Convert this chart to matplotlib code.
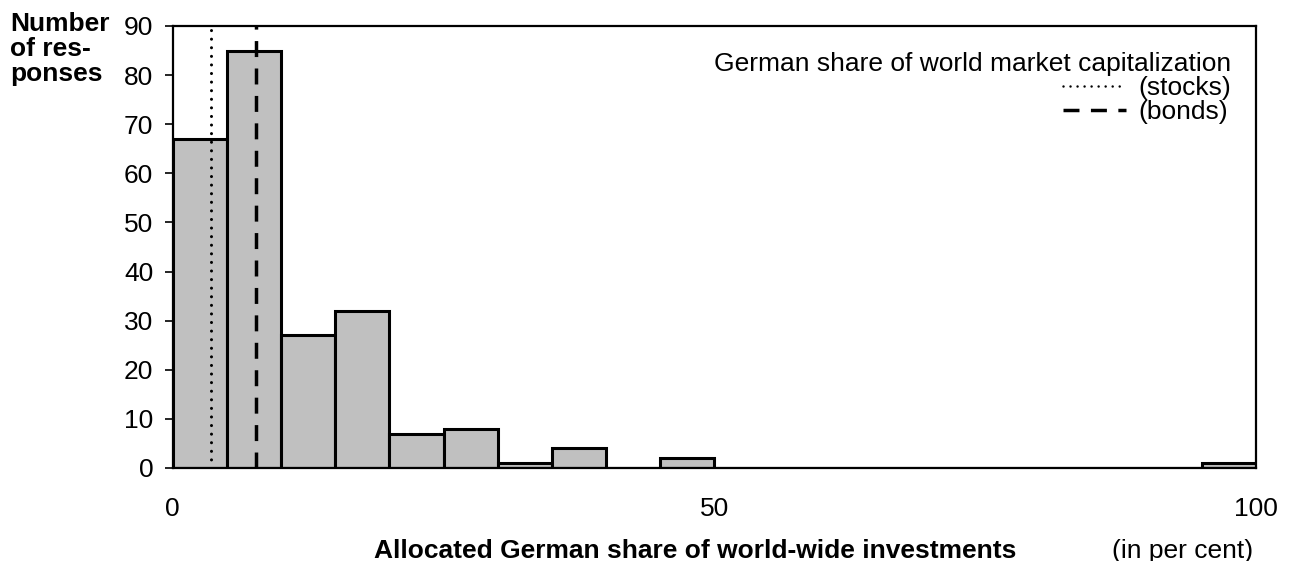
import matplotlib.pyplot as plt
from matplotlib.lines import Line2D

plt.rcParams['font.family'] = ['Liberation Sans', 'DejaVu Sans']

# histogram data: bins of 5 per cent width
bin_left = [0, 5, 10, 15, 20, 25, 30, 35, 40, 45, 50, 55, 60, 65, 70, 75, 80, 85, 90, 95]
responses = [67, 85, 27, 32, 7, 8, 1, 4, 0, 2, 0, 0, 0, 0, 0, 0, 0, 0, 0, 1]
bin_width = 5

# German share of world market capitalization
stocks_share = 3.5
bonds_share = 7.7

x_ticks = [0, 50, 100]
y_ticks = [0, 10, 20, 30, 40, 50, 60, 70, 80, 90]

fs = 19
dotted = (0, (0.01, 2.8))
dashed = (0, (4.6, 3.3))

fig = plt.figure(figsize=(12.97, 5.61), dpi=100)
ax = fig.add_axes([0.1332, 0.1658, 0.8352, 0.7879])

ax.bar(bin_left, responses, width=bin_width, align='edge',
       color='#c0c0c0', edgecolor='black', linewidth=2.2, zorder=2)

ax.axvline(stocks_share, color='black', linewidth=2.2,
           linestyle=dotted, dash_capstyle='round', zorder=3)
ax.axvline(bonds_share, color='black', linewidth=2.5,
           linestyle=dashed, zorder=3)

ax.set_xlim(0, 100)
ax.set_ylim(0, 90)
ax.set_xticks(x_ticks)
ax.set_yticks(y_ticks)
ax.tick_params(axis='x', length=0, pad=21, labelsize=fs)
ax.tick_params(axis='y', length=6, width=1.2, pad=8, labelsize=fs, direction='out')

for sp in ax.spines.values():
    sp.set_linewidth(1.6)
    sp.set_color('black')

# legend for the two reference lines
handles = [
    Line2D([], [], color='black', linewidth=1.8, linestyle=(0, (0.01, 2.8)),
           dash_capstyle='round'),
    Line2D([], [], color='black', linewidth=2.5, linestyle=dashed),
]
leg = ax.legend(handles, ['(stocks)', '(bonds)'],
                title='German share of world market capitalization',
                loc='upper right', bbox_to_anchor=(0.977, 0.94),
                frameon=False, fontsize=fs, title_fontsize=fs,
                alignment='right', handlelength=2.4, handletextpad=0.45,
                labelspacing=0.0, borderaxespad=0, borderpad=0)

fig.text(0.008, 0.978, 'Number\nof res-\nponses', fontsize=fs,
         fontweight='bold', ha='left', va='top', linespacing=1.05)

fig.text(0.536, 0.0178, 'Allocated German share of world-wide investments',
         fontsize=fs, fontweight='bold', ha='center', va='center')
fig.text(0.966, 0.0178, '(in per cent)', fontsize=fs, ha='right', va='center')

fig.savefig('out.png', dpi=100)
